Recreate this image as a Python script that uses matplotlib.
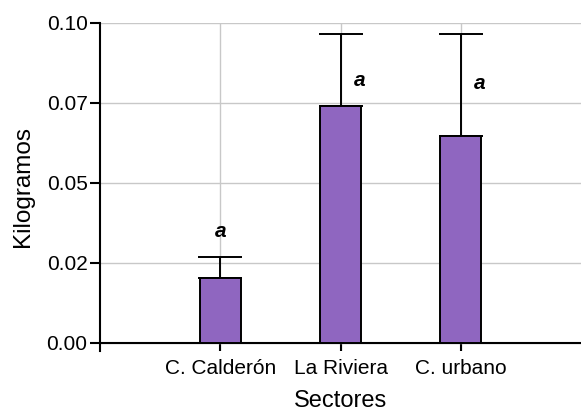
import numpy as np
import matplotlib
matplotlib.use("Agg")
import matplotlib.pyplot as plt

plt.rcParams['font.family'] = ['Liberation Sans', 'DejaVu Sans']

# mean weight per sector with the upper error (SD)
sectores = ["C. Calderón", "La Riviera", "C. urbano"]
medias = [0.0203, 0.0740, 0.0647]
errores = [0.0066, 0.0224, 0.0317]
letras = ["a", "a", "a"]

yticks = [0.0, 0.025, 0.05, 0.075, 0.10]
ytick_labels = ["0.00", "0.02", "0.05", "0.07", "0.10"]

color_barra = "#8F66C0"

fig = plt.figure(figsize=(5.81, 4.12), dpi=100)
ax = fig.add_axes([100/581, 1 - 350.7/412, 1 - 100/581, (350.7 - 22.7)/412])

x = np.arange(1, len(sectores) + 1)
ax.bar(x, medias, width=0.345, color=color_barra, edgecolor="black",
       linewidth=1.4, zorder=3)
ax.errorbar(x, medias, yerr=[np.zeros(len(errores)), errores], fmt="none",
            ecolor="black", elinewidth=1.4, capsize=15.5, capthick=1.4, zorder=2)

# significance letters
dxs = [0.0, 0.16, 0.16]
ys = [medias[0] + errores[0] + 0.0078, 0.0819, 0.0809]
for xi, dx, yi, l in zip(x, dxs, ys, letras):
    ax.text(xi + dx, yi, l, ha="center", va="center", fontsize=15,
            fontweight="bold", fontstyle="italic")

ax.set_xlim(0, 4)
ax.set_ylim(-0.0025, 0.10)
ax.set_xticks(x)
ax.set_xticklabels(sectores)
ax.set_yticks(yticks)
ax.set_yticklabels(ytick_labels)

ax.grid(True, color="#c8c8c8", linewidth=1.0, zorder=0)
ax.set_axisbelow(True)

ax.spines["top"].set_visible(False)
ax.spines["right"].set_visible(False)
ax.spines["bottom"].set_position(("data", 0))
ax.spines["left"].set_linewidth(1.5)
ax.spines["bottom"].set_linewidth(1.5)

ax.tick_params(axis="both", labelsize=15, width=1.5)
ax.tick_params(axis="y", length=7, pad=2)
ax.tick_params(axis="x", length=6, pad=6)

ax.set_ylabel("Kilogramos", fontsize=17.5, labelpad=9)
ax.set_xlabel("Sectores", fontsize=17, labelpad=8.5)

fig.savefig("out.png", dpi=100)
